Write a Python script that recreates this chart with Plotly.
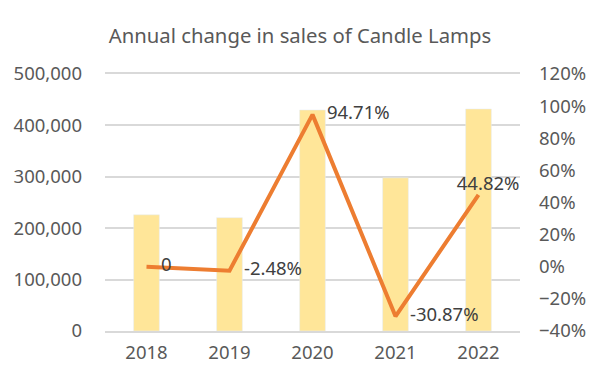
import plotly.graph_objects as go

years = ["2018", "2019", "2020", "2021", "2022"]
sales = [226000, 220500, 430000, 298000, 432000]
change = [0.0, -0.0248, 0.9471, -0.3087, 0.4482]
change_labels = ["0", "-2.48%", "94.71%", "-30.87%", "44.82%"]
label_pos = ["middle right", "middle right", "middle right", "middle right", "top center"]

FONT = "Noto Sans"
GREY = "#595959"
GRID = "#D9D9D9"

# page body has an 8px default margin, so the figure is sized to fit inside it
W, H = 584, 366

fig = go.Figure()
fig.add_trace(go.Bar(
    x=years, y=sales, marker_color="#FFE699", width=0.31,
    yaxis="y", showlegend=False, hoverinfo="skip"))
fig.add_trace(go.Scatter(
    x=years, y=change, mode="lines+text", yaxis="y2",
    line=dict(color="#ED7D31", width=4),
    text=change_labels, textposition=label_pos,
    texttemplate=["   %{text}", "   %{text}", "   %{text}", "   %{text}", "    %{text}"],
    textfont=dict(family=FONT, size=18.5, color="#404040"),
    showlegend=False, cliponaxis=False))

fig.update_layout(
    width=W, height=H,
    margin=dict(l=97, r=72, t=66, b=43, autoexpand=False),
    paper_bgcolor="white", plot_bgcolor="white",
    title=dict(text="Annual change in sales of Candle Lamps",
               x=0.5, xanchor="center", y=1 - 28 / H, yanchor="middle",
               font=dict(family=FONT, size=20.3, color=GREY)),
    font=dict(family=FONT, size=18.5, color=GREY),
    xaxis=dict(type="category", showgrid=False,
               showline=True, mirror=True, linecolor=GRID, linewidth=2,
               ticks="", tickfont=dict(size=18.5, color=GREY),
               ticklabelstandoff=4, zeroline=False, automargin=False),
    yaxis=dict(range=[0, 500000], dtick=100000, tickformat=",",
               showgrid=True, gridcolor=GRID, gridwidth=2,
               zeroline=False, showline=False, ticks="", ticklabelstandoff=22,
               tickfont=dict(size=18.5, color=GREY), automargin=False),
    yaxis2=dict(range=[-0.4, 1.2], dtick=0.2, tickformat=".0%",
                overlaying="y", side="right", showgrid=False,
                zeroline=False, showline=False, ticks="",
                ticklabelstandoff=18, tickfont=dict(size=18.5, color=GREY),
                automargin=False),
    bargap=0.69,
)

fig.write_html("out.html")
